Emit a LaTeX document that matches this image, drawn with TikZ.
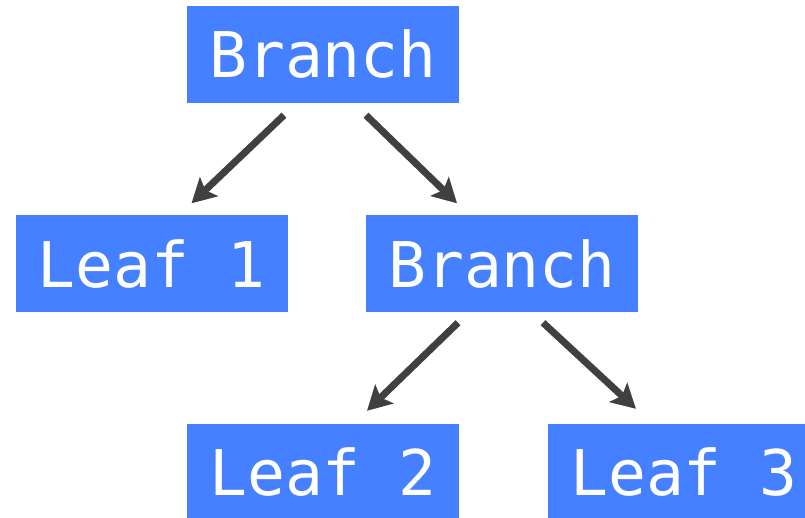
\documentclass[tikz,border=0pt]{standalone}
\usepackage{fontspec}
\setmonofont{DejaVu Sans Mono}
\usetikzlibrary{arrows.meta}
\definecolor{boxblue}{RGB}{68,128,255}
\definecolor{arrgray}{RGB}{64,64,64}
\begin{document}
\begin{tikzpicture}[x=1pt,y=-1pt,
  box/.style={fill=boxblue,text=white,minimum width=272pt,minimum height=97pt,inner sep=0pt,
    font=\ttfamily\fontsize{63}{70}\selectfont},
  arr/.style={draw=arrgray,line width=7pt,-{Stealth[length=24pt,width=26pt,inset=5pt]}}]
\useasboundingbox (0,0) rectangle (805,518);
\clip (0,0) rectangle (805,518);
\node[box] (b1) at (323,54.5) {Branch};
\node[box] (l1) at (151.5,264) {Leaf 1};
\node[box] (b2) at (502,264) {Branch};
\node[box] (l2) at (323,472.5) {Leaf 2};
\node[box] (l3) at (684,472.5) {Leaf 3};
\draw[arr] ([xshift=-39pt,yshift=-12pt]b1.south) -- ([xshift=40pt,yshift=12pt]l1.north);
\draw[arr] ([xshift=43pt,yshift=-12pt]b1.south) -- ([xshift=-45pt,yshift=12pt]b2.north);
\draw[arr] ([xshift=-44pt,yshift=-10pt]b2.south) -- ([xshift=44pt,yshift=13pt]l2.north);
\draw[arr] ([xshift=41pt,yshift=-10pt]b2.south) -- ([xshift=-48pt,yshift=15pt]l3.north);
\end{tikzpicture}
\end{document}
